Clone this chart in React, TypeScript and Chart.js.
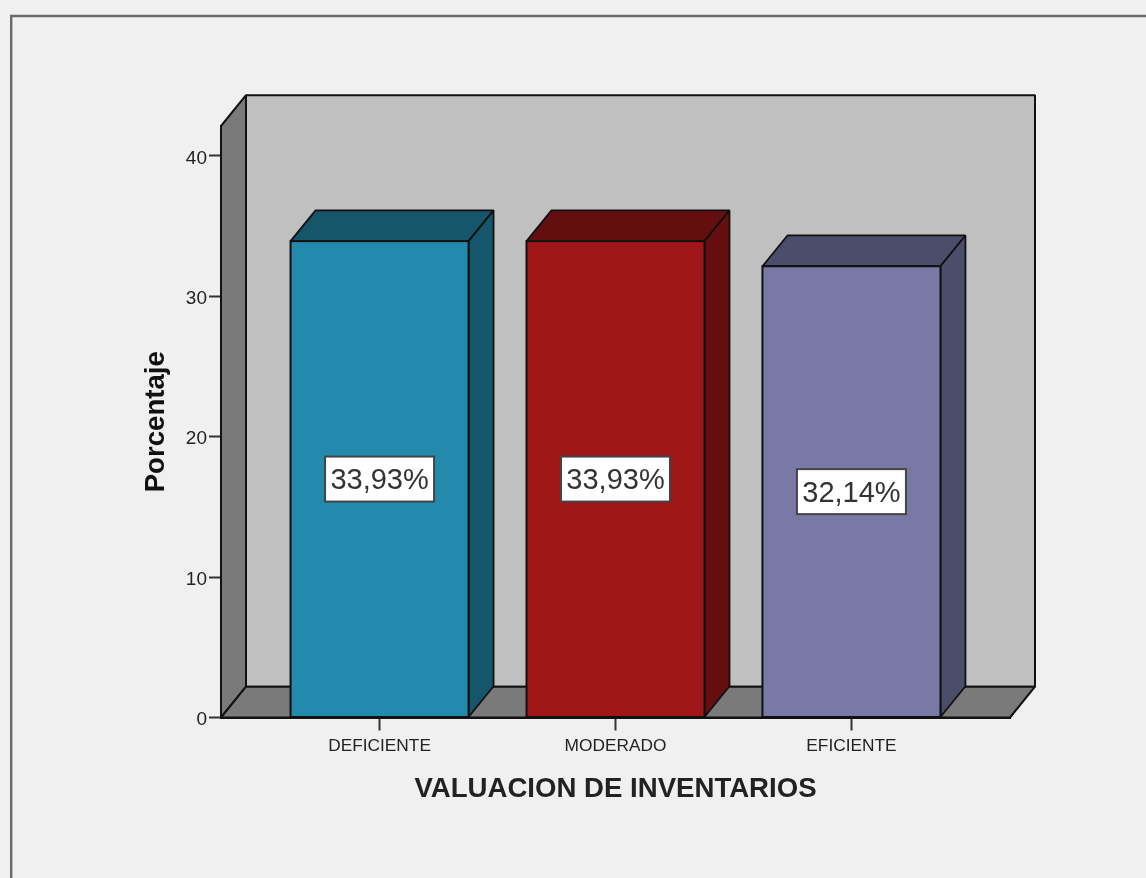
import React, { useEffect, useRef } from "react";
import { Chart, registerables } from "chart.js";

Chart.register(...registerables);

const categories = ["DEFICIENTE", "MODERADO", "EFICIENTE"];
const percentages = [33.93, 33.93, 32.14];
const yTicks = [0, 10, 20, 30, 40];
const xAxisTitle = "VALUACION DE INVENTARIOS";
const yAxisTitle = "Porcentaje";

const frontColors = ["#2389ad", "#a01518", "#7a79a6"];
const sideColors = ["#16566b", "#640e10", "#4c4c6b"];

const FONT = "'Liberation Sans', Arial, sans-serif";
const DX = 25;
const DY = 30.8;
const LINE = "#111111";

function poly(ctx: CanvasRenderingContext2D, pts: number[][], fill: string | null, lw = 2) {
  ctx.beginPath();
  pts.forEach((p, i) => (i ? ctx.lineTo(p[0], p[1]) : ctx.moveTo(p[0], p[1])));
  ctx.closePath();
  if (fill) {
    ctx.fillStyle = fill;
    ctx.fill();
  }
  ctx.lineWidth = lw;
  ctx.strokeStyle = LINE;
  ctx.lineJoin = "bevel";
  ctx.stroke();
}

const backdrop = {
  id: "backdrop",
  beforeDraw(chart: any) {
    const { ctx, width, height, chartArea: a } = chart;
    ctx.save();
    ctx.fillStyle = "#f0f0f0";
    ctx.fillRect(0, 0, width, height);
    ctx.strokeStyle = "#6a6a6a";
    ctx.lineWidth = 2.4;
    ctx.beginPath();
    ctx.moveTo(11.2, height + 2);
    ctx.lineTo(11.2, 16);
    ctx.lineTo(width + 2, 16);
    ctx.stroke();
    // back wall
    poly(ctx, [[a.left + DX, a.top - DY], [a.right + DX, a.top - DY], [a.right + DX, a.bottom - DY], [a.left + DX, a.bottom - DY]], "#c0c0c0");
    // left wall
    poly(ctx, [[a.left, a.top], [a.left + DX, a.top - DY], [a.left + DX, a.bottom - DY], [a.left, a.bottom]], "#7a7a7a");
    // floor
    poly(ctx, [[a.left, a.bottom], [a.left + DX, a.bottom - DY], [a.right + DX, a.bottom - DY], [a.right, a.bottom]], "#7a7a7a");
    ctx.restore();
  },
};

const bars3d = {
  id: "bars3d",
  beforeDatasetsDraw(chart: any) {
    const { ctx } = chart;
    const meta = chart.getDatasetMeta(0);
    ctx.save();
    meta.data.forEach((bar: any, i: number) => {
      const l = bar.x - bar.width / 2;
      const r = bar.x + bar.width / 2;
      const t = bar.y;
      const b = bar.base;
      poly(ctx, [[l, t], [l + DX, t - DY], [r + DX, t - DY], [r, t]], sideColors[i], 1.8);
      poly(ctx, [[r, t], [r + DX, t - DY], [r + DX, b - DY], [r, b]], sideColors[i], 1.8);
    });
    ctx.restore();
  },
  afterDatasetsDraw(chart: any) {
    const { ctx } = chart;
    const meta = chart.getDatasetMeta(0);
    ctx.save();
    meta.data.forEach((bar: any, i: number) => {
      const l = bar.x - bar.width / 2;
      const t = bar.y;
      const b = bar.base;
      ctx.lineWidth = 2;
      ctx.strokeStyle = LINE;
      ctx.strokeRect(l, t, bar.width, b - t);

      const text = percentages[i].toFixed(2).replace(".", ",") + "%";
      const cy = (t + b) / 2;
      ctx.font = `29px ${FONT}`;
      const w = 109;
      const h = 45;
      ctx.fillStyle = "#ffffff";
      ctx.fillRect(bar.x - w / 2, cy - h / 2, w, h);
      ctx.lineWidth = 2;
      ctx.strokeStyle = "#444444";
      ctx.strokeRect(bar.x - w / 2, cy - h / 2, w, h);
      ctx.fillStyle = "#333333";
      ctx.textAlign = "center";
      ctx.textBaseline = "middle";
      ctx.fillText(text, bar.x, cy + 2);
    });
    ctx.restore();
  },
};

export default function App() {
  const ref = useRef<HTMLCanvasElement | null>(null);

  useEffect(() => {
    const chart = new Chart(ref.current as HTMLCanvasElement, {
      type: "bar",
      data: {
        datasets: [
          {
            data: percentages.map((v, i) => ({ x: i, y: v })),
            backgroundColor: frontColors,
            borderWidth: 0,
            barThickness: 178,
          },
        ],
      },
      options: {
        responsive: false,
        animation: false,
        layout: { padding: { left: 121, right: 136, top: 126, bottom: 60.5 } },
        plugins: { legend: { display: false }, tooltip: { enabled: false } },
        scales: {
          x: {
            type: "linear",
            offset: false,
            min: -0.672,
            max: 2.672,
            afterBuildTicks: (s: any) => {
              s.ticks = categories.map((_, i) => ({ value: i }));
            },
            afterFit: (s: any) => {
              s.height = 100;
            },
            grid: { offset: false, drawOnChartArea: false, drawTicks: true, tickLength: 13, tickWidth: 2, tickColor: "#333333" },
            border: { display: true, color: LINE, width: 2 },
            ticks: {
              autoSkip: false,
              maxRotation: 0,
              padding: 5,
              color: "#222222",
              font: { family: FONT, size: 17.3 },
              callback: (v: any) => categories[v],
            },
            title: {
              display: true,
              text: xAxisTitle,
              color: "#222222",
              font: { family: FONT, size: 27.6, weight: "bold" },
              padding: { top: 0, bottom: 12 },
            },
          },
          y: {
            min: 0,
            max: 42.13,
            afterBuildTicks: (s: any) => {
              s.ticks = yTicks.map((value) => ({ value }));
            },
            afterFit: (s: any) => {
              s.width = 100;
            },
            grid: { drawOnChartArea: false, drawTicks: true, tickLength: 12, tickWidth: 2, tickColor: "#333333" },
            border: { display: true, color: LINE, width: 2 },
            ticks: {
              padding: 2,
              color: "#222222",
              font: { family: FONT, size: 19, lineHeight: "5px" },
              callback: (v: any) => ["", String(v)],
            },
            title: {
              display: true,
              text: yAxisTitle,
              color: "#111111",
              font: { family: FONT, size: 27.6, weight: "bold" },
              padding: { top: 19, bottom: 0 },
            },
          },
        },
      },
      plugins: [backdrop, bars3d],
    } as any);
    return () => chart.destroy();
  }, []);

  return (
    <canvas
      ref={ref}
      width={1146}
      height={878}
      style={{ position: "fixed", left: 0, top: 0, display: "block", filter: "blur(0.45px)" }}
    />
  );
}
